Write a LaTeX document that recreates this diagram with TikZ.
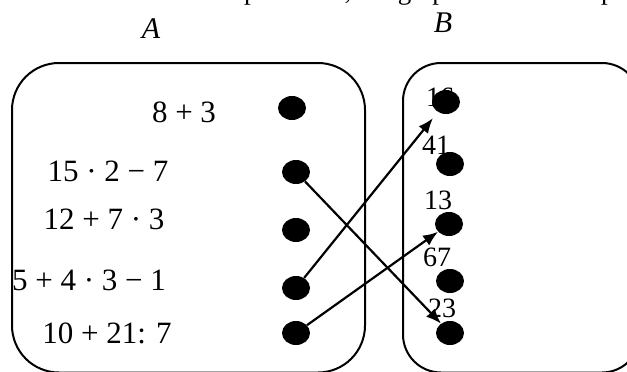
\documentclass[tikz,border=0pt]{standalone}
\usepackage{fontspec}
\setmainfont{Liberation Serif}
\usetikzlibrary{shapes.geometric,arrows.meta}
\begin{document}
\begin{tikzpicture}[x=1pt,y=-1pt,
  dot/.style={ellipse,fill=black,minimum width=28pt,minimum height=24pt,inner sep=0pt},
  setbox/.style={draw=black,line width=2pt},
  arr/.style={line width=2.2pt,-{Latex[length=15pt,width=12pt]}},
  expr/.style={font=\fontsize{31}{36}\selectfont,inner sep=0pt,anchor=base},
  num/.style={font=\fontsize{28}{32}\selectfont,inner sep=0pt},
  setname/.style={font=\fontsize{30}{34}\selectfont\itshape,inner sep=0pt,anchor=base},
]
\useasboundingbox (0,0) rectangle (627,372);
\clip (0,0) rectangle (627,372);

% cut-off line of text at the top
\node[anchor=base west,font=\fontsize{27}{32}\selectfont,inner sep=0pt] (topline) at (34,-1) {We calculate the expressions, the graph of the correspondence};

% set names
\node[setname] (nameA) at (151,38) {A};
\node[setname] (nameB) at (443,32) {B};

% the two sets
\draw[setbox,rounded corners=47pt] (12,63) rectangle (365,372.5);
\draw[setbox,rounded corners=38pt] (403,63) rectangle (640,372.5);

% expressions in A
\node[expr] (e1) at (184,122) {8 + 3};
\node[expr] (e2) at (108,181) {15 · 2 − 7};
\node[expr] (e3) at (104,229) {12 + 7 · 3};
\node[expr] (e4) at (89,290) {5 + 4 · 3 − 1};
\node[expr] (e5) at (107,343) {10 + 21: 7};

% values in B
\node[num] (v1) at (440,97) {16};
\node[num] (v2) at (436,145) {41};
\node[num] (v3) at (438,200) {13};
\node[num] (v4) at (437,257) {67};
\node[num] (v5) at (442,308) {23};

% dots
\node[dot] (a1) at (292,108) {};
\node[dot] (a2) at (296,172) {};
\node[dot] (a3) at (296,230) {};
\node[dot] (a4) at (296,288) {};
\node[dot] (a5) at (296,333) {};

\node[dot] (b1) at (446,102) {};
\node[dot] (b2) at (450,164) {};
\node[dot] (b3) at (449,224) {};
\node[dot] (b4) at (450,281) {};
\node[dot] (b5) at (450,333) {};

% arrows
\draw[arr] (a2) -- (b5);
\draw[arr,shorten >=8pt] (a4) -- (b1);
\draw[arr] (a5) -- (b3);
\end{tikzpicture}
\end{document}
